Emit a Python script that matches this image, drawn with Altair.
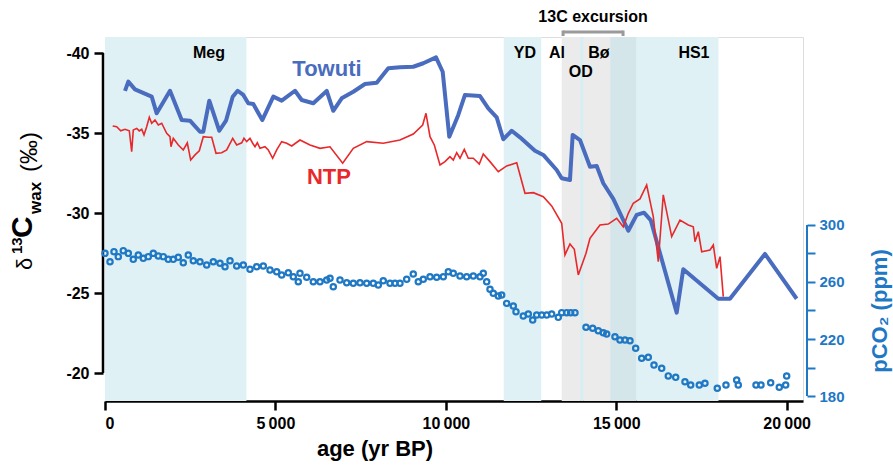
import altair as alt
import pandas as pd

FONT = "Liberation Sans"

# Lake Towuti leaf-wax d13C (per mil)
towuti_age = [587, 684, 880, 1370, 1517, 1907, 2250, 2494, 2787, 2884,
              3060, 3354, 3550, 3747, 3893, 4058, 4204, 4351, 4615, 4938,
              5184, 5575, 5771, 6112, 6505, 6698, 6945, 7285, 7628, 7972,
              8312, 8655, 9045, 9339, 9712, 9908, 10102, 10366, 10562, 11003,
              11246, 11493, 11686, 11933, 12176, 12616, 12860, 13253, 13400, 13643,
              13722, 13937, 14230, 14427, 14620, 14914, 15354, 15600, 15814, 16011,
              16774, 16967, 17994, 18337, 19364, 20294]
towuti_d13c = [-37.63, -38.21, -37.73, -37.27, -36.23, -37.64, -35.81, -35.77, -35.08, -35.08,
               -37.02, -35.14, -35.77, -37.27, -37.64, -37.38, -36.86, -36.81, -35.81, -37.27,
               -37.02, -37.64, -37.06, -36.86, -37.63, -36.39, -37.17, -37.58, -38.06, -38.14,
               -39.04, -39.11, -39.14, -39.36, -39.73, -38.83, -34.77, -36.13, -37.38, -37.31,
               -36.54, -35.98, -34.61, -35.14, -34.73, -33.89, -33.63, -32.69, -32.17, -32.06,
               -34.88, -34.56, -32.89, -32.94, -31.86, -30.88, -28.89, -29.88, -30.02, -29.56,
               -23.77, -26.48, -24.64, -24.64, -27.44, -24.64]

# NTP leaf-wax d13C (per mil)
ntp_age = [226, 343, 461, 587, 713, 783, 830, 930, 1006, 1077,
           1144, 1223, 1300, 1370, 1467, 1564, 1664, 1810, 1907, 1936,
           2004, 2151, 2297, 2415, 2514, 2641, 2767, 2884, 3031, 3131,
           3257, 3424, 3571, 3747, 3864, 4011, 4078, 4157, 4254, 4333,
           4401, 4469, 4548, 4694, 4791, 4920, 5038, 5184, 5331, 5478,
           5721, 6015, 6308, 6602, 6974, 7285, 7678, 8165, 8655, 9045,
           9321, 9418, 9536, 9662, 9829, 9976, 10122, 10219, 10319, 10416,
           10542, 10659, 10806, 10982, 11099, 11296, 11540, 11786, 12080, 12323,
           12567, 12860, 13106, 13400, 13496, 13643, 13770, 13887, 14113, 14230,
           14523, 14767, 15013, 15207, 15354, 15500, 15697, 15893, 16087, 16234,
           16380, 16627, 16870, 17114, 17261, 17311, 17408, 17507, 17751, 17848,
           17948, 18045, 18141]
ntp_d13c = [-35.44, -35.39, -35.14, -35.23, -35.14, -33.83, -35.19, -35.29, -35.13, -35.23,
            -34.88, -35.39, -35.98, -35.61, -35.81, -35.50, -35.61, -34.98, -34.77, -34.14,
            -34.67, -34.25, -33.94, -34.39, -33.31, -33.63, -33.89, -34.77, -34.73, -34.73,
            -33.73, -33.77, -33.94, -34.67, -34.25, -34.39, -34.67, -34.46, -34.67, -34.36,
            -34.14, -34.39, -34.04, -34.14, -33.94, -33.42, -33.94, -34.46, -34.36, -34.19,
            -34.56, -34.25, -34.04, -34.14, -33.11, -34.04, -34.46, -34.36, -34.56, -34.94,
            -35.50, -36.23, -34.77, -34.25, -33.00, -33.21, -33.52, -33.31, -33.77, -33.42,
            -33.98, -33.42, -33.42, -33.06, -33.69, -33.21, -32.58, -32.94, -33.14, -31.23,
            -31.27, -31.02, -30.44, -29.36, -27.38, -28.06, -27.73, -26.13, -27.48, -28.42,
            -29.25, -29.31, -29.67, -29.14, -29.98, -30.61, -30.88, -31.75, -29.77, -26.96,
            -31.13, -28.52, -29.56, -29.25, -29.14, -28.21, -28.83, -27.58, -27.69, -28.00,
            -26.54, -27.27, -24.77]

# Ice-core atmospheric pCO2 (ppm)
co2_age = [0, 147, 264, 390, 537, 684, 830, 977, 1124, 1270,
           1417, 1564, 1711, 1857, 2004, 2151, 2297, 2444, 2591, 2787,
           2984, 3178, 3374, 3521, 3668, 3864, 4058, 4254, 4451, 4645,
           4841, 5038, 5184, 5378, 5525, 5671, 5721, 5918, 6112, 6308,
           6505, 6602, 6698, 6895, 7092, 7285, 7482, 7678, 7872, 8019,
           8165, 8362, 8509, 8655, 8852, 9045, 9192, 9339, 9536, 9732,
           9926, 10073, 10219, 10416, 10612, 10806, 11003, 11099, 11199, 11296,
           11393, 11540, 11639, 11786, 11980, 12059, 12273, 12420, 12549, 12666,
           12813, 12960, 13106, 13300, 13400, 13546, 13664, 13790, 14113, 14309,
           14474, 14620, 14720, 14963, 15110, 15257, 15404, 15571, 15747, 15941,
           16108, 16334, 16527, 16745, 17017, 17185, 17437, 17604, 17965, 18220,
           18534, 18581, 19101, 19247, 19532, 19784, 19972, 20001]
co2_ppm = [280.1, 274.2, 281.3, 277.8, 282.0, 280.1, 275.9, 278.9, 276.6, 277.8,
           280.1, 278.2, 277.8, 275.9, 275.9, 277.3, 273.5, 278.9, 274.9, 274.2,
           271.9, 274.2, 273.1, 270.7, 274.9, 271.2, 271.9, 268.9, 270.7, 271.2,
           268.4, 267.2, 264.9, 266.5, 263.7, 260.2, 266.1, 263.3, 260.2, 260.2,
           261.4, 262.6, 256.7, 261.4, 259.5, 259.1, 259.5, 259.1, 259.1, 257.9,
           260.9, 259.1, 259.1, 259.1, 261.9, 265.6, 260.2, 261.9, 263.7, 263.3,
           263.7, 267.2, 266.1, 264.2, 263.7, 264.2, 263.7, 266.1, 260.2, 254.9,
           252.1, 250.2, 250.9, 245.0, 243.2, 239.2, 236.1, 237.5, 233.3, 236.8,
           236.8, 236.8, 237.5, 235.2, 238.5, 238.5, 238.5, 238.5, 228.2, 227.5,
           225.8, 224.4, 223.5, 221.6, 219.3, 219.3, 218.8, 213.5, 206.5, 207.2,
           201.7, 199.4, 194.1, 193.1, 190.0, 187.7, 187.7, 188.9, 185.4, 187.7,
           191.2, 187.7, 187.7, 187.7, 189.3, 186.1, 187.7, 194.0]

# Climate intervals (yr BP)
band_start = [0, 11700, 13400, 13940, 14050, 14820, 15600]
band_end = [4150, 12800, 13940, 14050, 14820, 15600, 18000]
band_color = ["#dff1f4", "#dff1f4", "#ebebeb", "#d8edf1", "#ebebeb", "#d5e6ea", "#dff1f4"]

interval_names = ["Meg", "YD", "Al", "Bø", "HS1"]
interval_label_age = [3050, 12320, 13260, 14490, 17280]
excursion_span = [13440, 15200]

age_ticks = [0, 5000, 10000, 15000, 20000]
d13c_ticks = [-40, -35, -30, -25, -20]
co2_ticks = [180, 200, 220, 240, 260, 280, 300]

BLUE = "#4a6cbf"
RED = "#e8282b"
CO2 = "#1f78c4"

W, H = 698, 364
xs = alt.Scale(domain=[0, 20480], nice=False, zero=False)
ysL = alt.Scale(domain=[-41, -18.25], reverse=True, nice=False, zero=False)
ysR = alt.Scale(domain=[176.5, 431.9], nice=False, zero=False)

# every layer sharing a scale carries the same axis definition so they merge into one
x_axis = alt.Axis(
    values=age_ticks, title=None,
    labelExpr="datum.value >= 1000 ? floor(datum.value / 1000) + '\u2009000' : '0'",
    labelFont=FONT, labelFontSize=16, labelFontWeight="bold", labelColor="black",
    labelPadding=5, tickSize=9, tickWidth=2.5, tickColor="black",
    domainColor="black", domainWidth=2.5, grid=False,
)
yL_axis = alt.Axis(
    values=d13c_ticks, title=None, domain=False, offset=2,
    labelExpr="'-' + format(abs(datum.value), 'd')",
    labelFont=FONT, labelFontSize=16, labelFontWeight="bold", labelColor="black",
    labelPadding=5, tickSize=9, tickWidth=2.5, tickColor="black", grid=False,
)
yR_axis = alt.Axis(
    orient="right", values=co2_ticks, title=None, domain=False, offset=4,
    labelExpr="datum.value % 40 == 20 ? datum.label : ''",
    labelFont=FONT, labelFontSize=15, labelFontWeight="bold", labelColor=CO2,
    labelPadding=4, tickSize=8, tickWidth=2, tickColor=CO2, grid=False,
)


def X(field):
    return alt.X(field, scale=xs, axis=x_axis)


towuti = pd.DataFrame({"age": towuti_age, "d": towuti_d13c})
ntp = pd.DataFrame({"age": ntp_age, "d": ntp_d13c})
co2 = pd.DataFrame({"age": co2_age, "ppm": co2_ppm})
bands = pd.DataFrame({"start": band_start, "end": band_end, "c": band_color})


def text_px(txt, x, y, size, color="black", weight="bold", angle=0, align="center",
            baseline="middle"):
    return alt.Chart(pd.DataFrame({"t": [txt]})).mark_text(
        font=FONT, fontSize=size, fontWeight=weight, color=color, angle=angle,
        align=align, baseline=baseline,
    ).encode(x=alt.value(x), y=alt.value(y), text="t:N")


def text_age(txt, age, y, size, color="black"):
    return alt.Chart(pd.DataFrame({"age": [age], "t": [txt]})).mark_text(
        font=FONT, fontSize=size, fontWeight="bold", color=color
    ).encode(x=X("age:Q"), y=alt.value(y), text="t:N")


shade = alt.Chart(bands).mark_rect().encode(
    x=X("start:Q"), x2="end:Q", color=alt.Color("c:N", scale=None),
)

labels = alt.Chart(pd.DataFrame({"age": interval_label_age, "t": interval_names})).mark_text(
    font=FONT, fontSize=16, fontWeight="bold", color="black"
).encode(x=X("age:Q"), y=alt.value(16), text="t:N")

od_label = text_age("OD", 13960, 35, 16)

exc = pd.DataFrame({"a0": [excursion_span[0]], "a1": [excursion_span[1]]})
exc_ends = pd.DataFrame({"age": excursion_span})
bracket = alt.Chart(exc).mark_rule(color="#9a9a9a", strokeWidth=3).encode(
    x=X("a0:Q"), x2="a1:Q", y=alt.value(-5))
bracket_ends = alt.Chart(exc_ends).mark_rule(color="#9a9a9a", strokeWidth=3).encode(
    x=X("age:Q"), y=alt.value(-6.5), y2=alt.value(-1))
exc_label = text_age("13C excursion", sum(excursion_span) / 2, -20, 16)

ntp_line = alt.Chart(ntp).mark_line(color=RED, strokeWidth=1.6).encode(
    x=X("age:Q"), y=alt.Y("d:Q", scale=ysL, axis=yL_axis),
)
towuti_line = alt.Chart(towuti).mark_line(color=BLUE, strokeWidth=4, strokeJoin="round").encode(
    x=X("age:Q"), y=alt.Y("d:Q", scale=ysL, axis=yL_axis),
)

left_domain = alt.Chart(pd.DataFrame({"lo": [-40], "hi": [-20]})).mark_rule(
    color="black", strokeWidth=2.5
).encode(x=alt.value(-2), y=alt.Y("lo:Q", scale=ysL, axis=yL_axis), y2="hi:Q")

towuti_name = text_age("Towuti", 6513, 32, 22, color=BLUE)
ntp_name = text_age("NTP", 6572, 140, 22, color=RED)

# rotated left-axis title: δ¹³C_wax (‰)
yl_title = alt.layer(
    text_px("δ", -73, 233, 22, weight="normal", angle=270, align="left", baseline="alphabetic"),
    text_px("13", -83, 217, 15, angle=270, align="left", baseline="alphabetic"),
    text_px("C", -73, 201, 30, angle=270, align="left", baseline="alphabetic"),
    text_px("wax", -64, 177, 17, angle=270, align="left", baseline="alphabetic"),
    text_px("(‰)", -68, 135, 24, weight="normal", angle=270, align="left", baseline="alphabetic"),
)
x_title = text_px("age (yr BP)", 270, 412, 22)
yr_title = text_px("pCO\u2082 (ppm)", 775, 274, 22, color=CO2, angle=270)

left = alt.layer(shade, bracket, bracket_ends, exc_label, labels, od_label,
                 towuti_line, ntp_line, left_domain, towuti_name, ntp_name,
                 yl_title, x_title, yr_title)

co2_points = alt.Chart(co2).mark_point(
    shape="circle", filled=False, color=CO2, strokeWidth=2.2, size=28, opacity=1
).encode(
    x=X("age:Q"), y=alt.Y("ppm:Q", scale=ysR, axis=yR_axis),
)
right_domain = alt.Chart(pd.DataFrame({"lo": [180], "hi": [300]})).mark_rule(
    color=CO2, strokeWidth=2
).encode(x=alt.value(W + 4), y=alt.Y("lo:Q", scale=ysR, axis=yR_axis), y2="hi:Q")

right = alt.layer(co2_points, right_domain)

chart = alt.layer(left, right).resolve_scale(y="independent").properties(
    width=W, height=H,
    autosize=alt.AutoSizeParams(type="none"),
    padding={"left": 105, "top": 37, "right": 90, "bottom": 66},
).configure_view(stroke=None).configure(font=FONT)

chart.save("out.html", embed_options={"renderer": "svg", "actions": False})
